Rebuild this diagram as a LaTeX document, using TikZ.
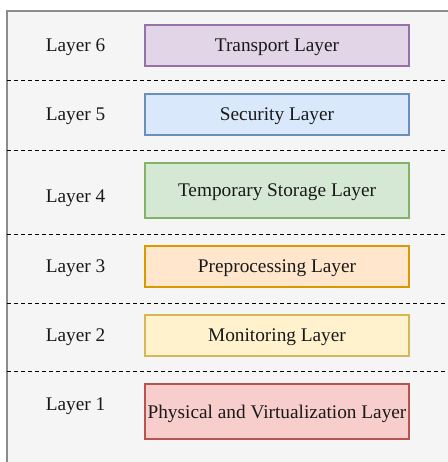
\documentclass[tikz,border=0pt]{standalone}
\usepackage{fontspec}
\setmainfont{Liberation Serif}
\usepackage{tikz}

\definecolor{panelfill}{HTML}{F5F5F5}
\definecolor{paneldraw}{HTML}{8C8C8C}
\definecolor{purplefill}{HTML}{E1D5E7}
\definecolor{purpledraw}{HTML}{9673A6}
\definecolor{bluefill}{HTML}{DAE8FC}
\definecolor{bluedraw}{HTML}{6C8EBF}
\definecolor{greenfill}{HTML}{D5E8D4}
\definecolor{greendraw}{HTML}{82B366}
\definecolor{orangefill}{HTML}{FFE6CC}
\definecolor{orangedraw}{HTML}{D79B00}
\definecolor{yellowfill}{HTML}{FFF2CC}
\definecolor{yellowdraw}{HTML}{D6B656}
\definecolor{redfill}{HTML}{F8CECC}
\definecolor{reddraw}{HTML}{B85450}

\begin{document}
\begin{tikzpicture}[x=1pt, y=-1pt,
    txt/.style={font=\fontsize{19.3}{23}\selectfont, text=black!90, text depth=0pt},
    layerbox/.style={txt, draw, line width=1.2, minimum width=264, minimum height=41, inner sep=0},
    tallbox/.style={layerbox, minimum height=55},
    sep/.style={line width=1, dash pattern=on 4pt off 3pt}]
      \useasboundingbox (0,0) rectangle (447,462);
      \filldraw [fill=panelfill, draw=paneldraw, line width=1.5] (7,11) rectangle (460,475);
      % separators
      \draw [sep] (7,81) -- (447,81);
      \draw [sep] (7,151) -- (447,151);
      \draw [sep] (7,234) -- (447,234);
      \draw [sep] (7,303) -- (447,303);
      \draw [sep] (7,371) -- (447,371);
      % layer names
      \node [txt] (l6) at (75.5,45) {Layer 6};
      \node [txt] (l5) at (75.5,114.5) {Layer 5};
      \node [txt] (l4) at (75.5,196.5) {Layer 4};
      \node [txt] (l3) at (75.5,266) {Layer 3};
      \node [txt] (l2) at (75.5,335) {Layer 2};
      \node [txt] (l1) at (75.5,404.5) {Layer 1};
      % layer boxes
      \node [layerbox, fill=purplefill, draw=purpledraw] (transport) at (277,45.5) {Transport Layer};
      \node [layerbox, fill=bluefill, draw=bluedraw] (security) at (277,114.5) {Security Layer};
      \node [tallbox, fill=greenfill, draw=greendraw] (storage) at (277,190.5) {Temporary Storage Layer};
      \node [layerbox, fill=orangefill, draw=orangedraw] (preproc) at (277,266.5) {Preprocessing Layer};
      \node [layerbox, fill=yellowfill, draw=yellowdraw] (monitor) at (277,335.5) {Monitoring Layer};
      \node [tallbox, fill=redfill, draw=reddraw] (physical) at (277,411.5) {Physical and Virtualization Layer};
\end{tikzpicture}
\end{document}
